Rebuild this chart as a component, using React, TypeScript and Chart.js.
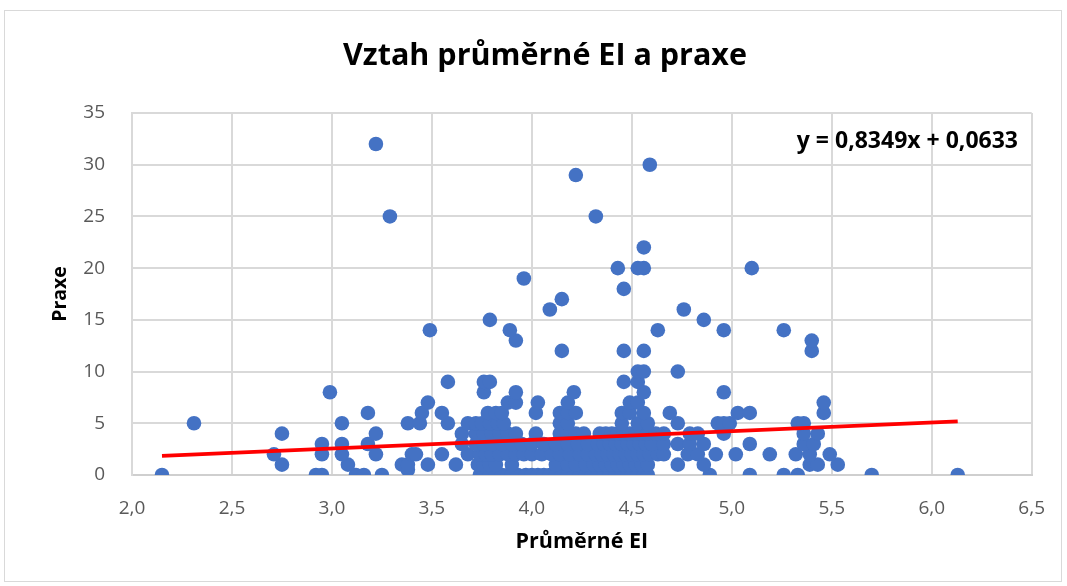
import React, { useEffect, useRef } from "react";
import { Chart, registerables } from "chart.js";

Chart.register(...registerables);

// Průměrné EI values grouped by the Praxe value (years)
const ei_p0 = [2.15, 2.92, 2.95, 3.12, 3.16, 3.25, 3.74, 3.76, 3.79, 3.82, 3.85, 3.88, 3.9, 3.93, 3.97, 4.0, 4.03, 4.06, 4.09, 4.12, 4.15, 4.18, 4.21, 4.24, 4.27, 4.3, 4.33, 4.36, 4.39, 4.42, 4.45, 4.48, 4.5, 4.53, 4.56, 4.58, 4.89, 5.09, 5.26, 5.33, 5.7, 6.13];
const ei_p05 = [3.38];
const ei_p1 = [2.75, 3.08, 3.35, 3.38, 3.48, 3.62, 3.73, 3.76, 3.79, 3.82, 3.9, 4.12, 4.18, 4.22, 4.27, 4.31, 4.34, 4.37, 4.4, 4.43, 4.46, 4.49, 4.52, 4.55, 4.58, 4.73, 4.86, 5.39, 5.43, 5.53];
const ei_p2 = [2.71, 2.95, 3.05, 3.22, 3.4, 3.42, 3.55, 3.68, 3.74, 3.77, 3.8, 3.84, 3.88, 3.92, 3.96, 4.0, 4.05, 4.1, 4.14, 4.19, 4.24, 4.28, 4.32, 4.35, 4.38, 4.41, 4.44, 4.47, 4.5, 4.53, 4.56, 4.59, 4.63, 4.66, 4.78, 4.83, 4.92, 5.02, 5.19, 5.32, 5.39, 5.49];
const ei_p3 = [2.95, 3.05, 3.18, 3.65, 3.72, 3.76, 3.8, 3.85, 3.9, 3.95, 4.0, 4.06, 4.12, 4.18, 4.23, 4.28, 4.33, 4.36, 4.39, 4.42, 4.45, 4.48, 4.51, 4.54, 4.57, 4.6, 4.66, 4.73, 4.79, 4.86, 5.09, 5.36, 5.41];
const ei_p4 = [2.75, 3.22, 3.65, 3.72, 3.76, 3.8, 3.84, 3.88, 3.92, 4.02, 4.14, 4.18, 4.22, 4.26, 4.34, 4.37, 4.4, 4.43, 4.46, 4.49, 4.52, 4.55, 4.58, 4.62, 4.66, 4.79, 4.83, 4.96, 5.36, 5.43];
const ei_p5 = [2.31, 3.05, 3.38, 3.44, 3.58, 3.68, 3.72, 3.75, 3.79, 3.83, 3.86, 4.14, 4.18, 4.45, 4.53, 4.58, 4.73, 4.93, 4.96, 4.99, 5.33, 5.36];
const ei_p6 = [3.18, 3.45, 3.55, 3.78, 3.82, 3.85, 4.02, 4.14, 4.18, 4.22, 4.45, 4.49, 4.56, 4.69, 5.03, 5.09, 5.46];
const ei_p7 = [3.48, 3.88, 3.92, 4.03, 4.18, 4.49, 4.53, 5.46];
const ei_p8 = [2.99, 3.76, 3.92, 4.21, 4.56, 4.96];
const ei_p9 = [3.58, 3.76, 3.79, 4.46, 4.53];
const ei_p10 = [4.53, 4.56, 4.73];
const ei_p12 = [4.15, 4.46, 4.56, 5.4];
const ei_p13 = [3.92, 5.4];
const ei_p14 = [3.49, 3.89, 4.63, 4.96, 5.26];
const ei_p15 = [3.79, 4.86];
const ei_p16 = [4.09, 4.76];
const ei_p17 = [4.15];
const ei_p18 = [4.46];
const ei_p19 = [3.96];
const ei_p20 = [4.43, 4.53, 4.56, 5.1];
const ei_p22 = [4.56];
const ei_p25 = [3.29, 4.32];
const ei_p29 = [4.22];
const ei_p30 = [4.59];
const ei_p32 = [3.22];

const praxeGroups: [number, number[]][] = [
  [0, ei_p0], [0.5, ei_p05], [1, ei_p1], [2, ei_p2], [3, ei_p3], [4, ei_p4],
  [5, ei_p5], [6, ei_p6], [7, ei_p7], [8, ei_p8], [9, ei_p9], [10, ei_p10],
  [12, ei_p12], [13, ei_p13], [14, ei_p14], [15, ei_p15], [16, ei_p16],
  [17, ei_p17], [18, ei_p18], [19, ei_p19], [20, ei_p20], [22, ei_p22],
  [25, ei_p25], [29, ei_p29], [30, ei_p30], [32, ei_p32],
];

const trendSlope = 0.8349;
const trendIntercept = 0.0633;
const equationText = "y = 0,8349x + 0,0633";
const chartTitle = "Vztah průměrné EI a praxe";
const xTitle = "Průměrné EI";
const yTitle = "Praxe";

const FONT = "'Open Sans', 'Noto Sans', sans-serif";

export default function App() {
  const ref = useRef<HTMLCanvasElement | null>(null);

  useEffect(() => {
    if (!ref.current) return;
    const points = praxeGroups.flatMap(([p, xs]) => xs.map((x) => ({ x, y: p })));
    const allX = points.map((p) => p.x);
    const xMin = Math.min(...allX);
    const xMax = Math.max(...allX);
    const trend = [
      { x: xMin, y: trendSlope * xMin + trendIntercept },
      { x: xMax, y: trendSlope * xMax + trendIntercept },
    ];

    const textPlugin = {
      id: "texts",
      afterDraw(chart: any) {
        const ctx = chart.ctx;
        ctx.save();
        ctx.fillStyle = "#000";
        ctx.textBaseline = "middle";
        ctx.font = `bold 30.5px ${FONT}`;
        ctx.textAlign = "center";
        ctx.fillText(chartTitle, 545, 56);
        ctx.font = `bold 23px ${FONT}`;
        ctx.textAlign = "right";
        ctx.fillText(equationText, 1018, 141);
        ctx.restore();
      },
    };

    const chart = new Chart(ref.current, {
      type: "scatter",
      data: {
        datasets: [
          {
            type: "line",
            data: trend,
            borderColor: "#FF0000",
            borderWidth: 3.8,
            pointRadius: 0,
            order: 0,
          } as any,
          {
            data: points,
            backgroundColor: "#4472C4",
            borderColor: "#4472C4",
            borderWidth: 0,
            pointRadius: 7.3,
            order: 1,
          },
        ],
      },
      options: {
        animation: false,
        responsive: false,
        events: [],
        layout: { padding: { top: 113, right: 30, left: 0, bottom: 0 } },
        plugins: { legend: { display: false }, tooltip: { enabled: false }, title: { display: false } },
        scales: {
          x: {
            type: "linear",
            min: 2,
            max: 6.5,
            afterFit: (s: any) => { s.height = 111; },
            ticks: {
              stepSize: 0.5,
              color: "#595959",
              padding: 22,
              font: { family: FONT, size: 19 },
              callback: (v: any) => Number(v).toFixed(1).replace(".", ","),
            },
            grid: { color: "#d9d9d9", lineWidth: 2, drawTicks: false },
            border: { color: "#cfcfcf", width: 2 },
            title: {
              display: true,
              text: xTitle,
              color: "#000",
              font: { family: FONT, size: 21.5, weight: "bold" },
              padding: { top: 0, bottom: 31 },
            },
          },
          y: {
            min: 0,
            max: 35,
            afterFit: (s: any) => { s.width = 132; },
            ticks: {
              stepSize: 5,
              color: "#595959",
              padding: 27,
              font: { family: FONT, size: 19 },
            },
            grid: { color: "#d9d9d9", lineWidth: 2, drawTicks: false },
            border: { color: "#d9d9d9", width: 2 },
            title: {
              display: true,
              text: yTitle,
              color: "#000",
              font: { family: FONT, size: 19.5, weight: "bold" },
              padding: { top: 49, bottom: 0 },
            },
          },
        },
      },
      plugins: [textPlugin],
    });
    return () => chart.destroy();
  }, []);

  return (
    <div style={{ position: "fixed", left: 0, top: 0, width: 1067, height: 586, background: "#fff" }}>
      <div style={{ position: "absolute", left: 4, top: 10, width: 1058, height: 572, border: "1px solid #d9d9d9", boxSizing: "border-box" }} />
      <canvas ref={ref} width={1067} height={586} style={{ position: "absolute", left: 0, top: 0 }} />
    </div>
  );
}
